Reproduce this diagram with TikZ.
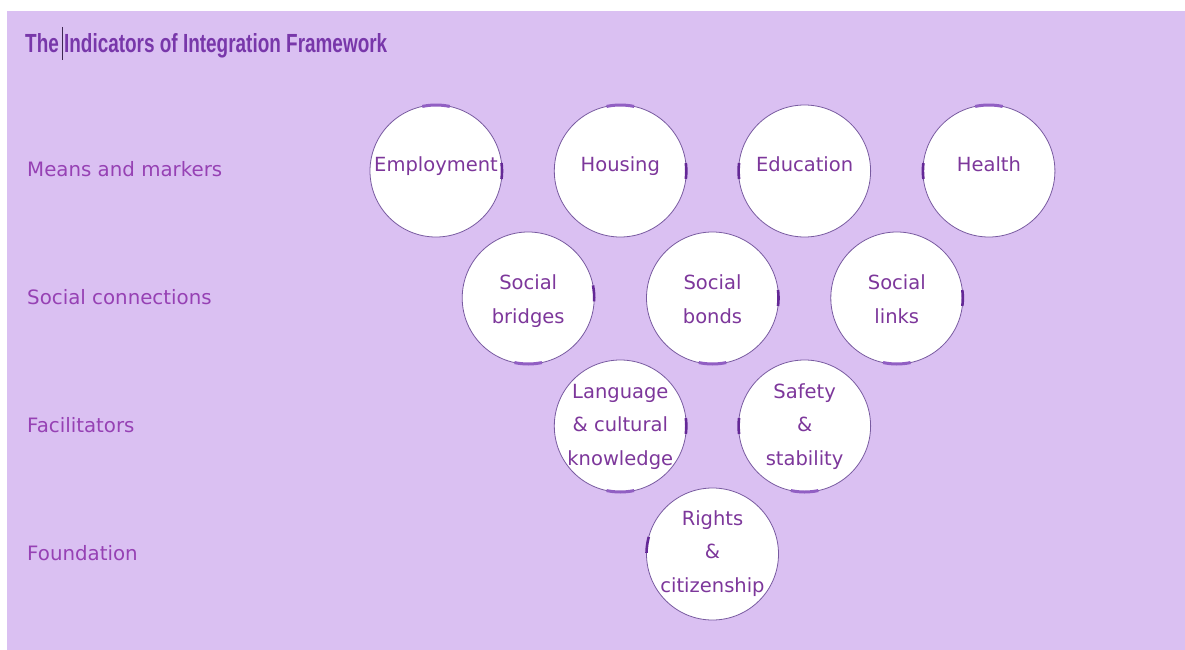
\documentclass[tikz,border=0pt]{standalone}
\usepackage{fontspec}
\setmainfont{DejaVu Sans}
\newfontfamily\titlefont{Liberation Sans}
\usetikzlibrary{calc}
\definecolor{bgpanel}{RGB}{218,192,242}
\definecolor{titlecol}{RGB}{120,55,170}
\definecolor{labelcol}{RGB}{150,65,180}
\definecolor{textcol}{RGB}{125,55,155}
\definecolor{bordercol}{RGB}{120,90,160}
\definecolor{tickcol}{RGB}{100,40,150}
\definecolor{arccol}{RGB}{145,95,195}
\tikzset{
  bubble/.style={circle, draw=bordercol, line width=0.8pt, fill=white, minimum size=132pt, inner sep=0pt, outer sep=0pt},
  ctext/.style={anchor=base, inner sep=0pt, text=textcol, align=center, font=\fontsize{19.5pt}{33.5pt}\selectfont},
  rowlabel/.style={anchor=base west, inner sep=0pt, text=labelcol, font=\fontsize{19.8pt}{22pt}\selectfont},
  tickmark/.style={draw=tickcol, line width=2.6pt},
  arcmark/.style={draw=arccol, line width=3pt},
}
\begin{document}
\begin{tikzpicture}[x=1pt,y=1pt]
\useasboundingbox (0,0) rectangle (1185,-650);
\fill[white] (0,0) rectangle (1185,-650);
\fill[bgpanel] (7,-11) rectangle (1185,-650);
% title
\node[anchor=base west, inner sep=0pt, text=titlecol] (title) at (25,-53)
  {\resizebox{362pt}{19pt}{\titlefont\bfseries The Indicators of Integration Framework}};
\coordinate (caretT) at (62,-27);
\coordinate (caretB) at (62,-60);
\draw[line width=1pt, draw={rgb,255:red,60;green,40;blue,80}] (caretT) -- (caretB);
% row labels
\node[rowlabel] (l1) at (27,-176) {Means and markers};
\node[rowlabel] (l2) at (27,-304) {Social connections};
\node[rowlabel] (l3) at (27,-432) {Facilitators};
\node[rowlabel] (l4) at (27,-560) {Foundation};
% circles
\node[bubble] (emp) at (436,-171) {};
\node[bubble] (hou) at (620.3,-171) {};
\node[bubble] (edu) at (804.6,-171) {};
\node[bubble] (hea) at (988.9,-171) {};
\node[bubble] (bri) at (528.2,-298) {};
\node[bubble] (bon) at (712.5,-298) {};
\node[bubble] (lin) at (896.8,-298) {};
\node[bubble] (lan) at (620.3,-426) {};
\node[bubble] (saf) at (804.6,-426) {};
\node[bubble] (rig) at (712.5,-554) {};
% marks on circle edges
\draw[tickmark] (emp.-7) arc[start angle=-7, end angle=7, radius=66pt];
\draw[arcmark] (emp.78) arc[start angle=78, end angle=102, radius=66pt];
\draw[tickmark] (hou.-7) arc[start angle=-7, end angle=7, radius=66pt];
\draw[arcmark] (hou.78) arc[start angle=78, end angle=102, radius=66pt];
\draw[tickmark] (edu.173) arc[start angle=173, end angle=187, radius=66pt];
\draw[tickmark] (hea.173) arc[start angle=173, end angle=187, radius=66pt];
\draw[arcmark] (hea.78) arc[start angle=78, end angle=102, radius=66pt];
\draw[tickmark] (bri.-3) arc[start angle=-3, end angle=11, radius=66pt];
\draw[arcmark] (bri.258) arc[start angle=258, end angle=282, radius=66pt];
\draw[tickmark] (bon.-7) arc[start angle=-7, end angle=7, radius=66pt];
\draw[arcmark] (bon.258) arc[start angle=258, end angle=282, radius=66pt];
\draw[tickmark] (lin.-7) arc[start angle=-7, end angle=7, radius=66pt];
\draw[arcmark] (lin.258) arc[start angle=258, end angle=282, radius=66pt];
\draw[tickmark] (lan.-7) arc[start angle=-7, end angle=7, radius=66pt];
\draw[arcmark] (lan.258) arc[start angle=258, end angle=282, radius=66pt];
\draw[tickmark] (saf.173) arc[start angle=173, end angle=187, radius=66pt];
\draw[arcmark] (saf.258) arc[start angle=258, end angle=282, radius=66pt];
\draw[tickmark] (rig.165) arc[start angle=165, end angle=179, radius=66pt];
% circle texts (base anchor = baseline of last line)
\node[ctext] (emp-t) at (emp.center) {Employment};
\node[ctext] (hou-t) at (hou.center) {Housing};
\node[ctext] (edu-t) at (edu.center) {Education};
\node[ctext] (hea-t) at (hea.center) {Health};
\node[ctext] (bri-t) at ([yshift=-25pt]bri.center) {Social\\bridges};
\node[ctext] (bon-t) at ([yshift=-25pt]bon.center) {Social\\bonds};
\node[ctext] (lin-t) at ([yshift=-25pt]lin.center) {Social\\links};
\node[ctext] (lan-t) at ([yshift=-39pt]lan.center) {Language\\\&~cultural\\knowledge};
\node[ctext] (saf-t) at ([yshift=-39pt]saf.center) {Safety\\\&\\stability};
\node[ctext] (rig-t) at ([yshift=-38pt]rig.center) {Rights\\\&\\citizenship};
\end{tikzpicture}
\end{document}
